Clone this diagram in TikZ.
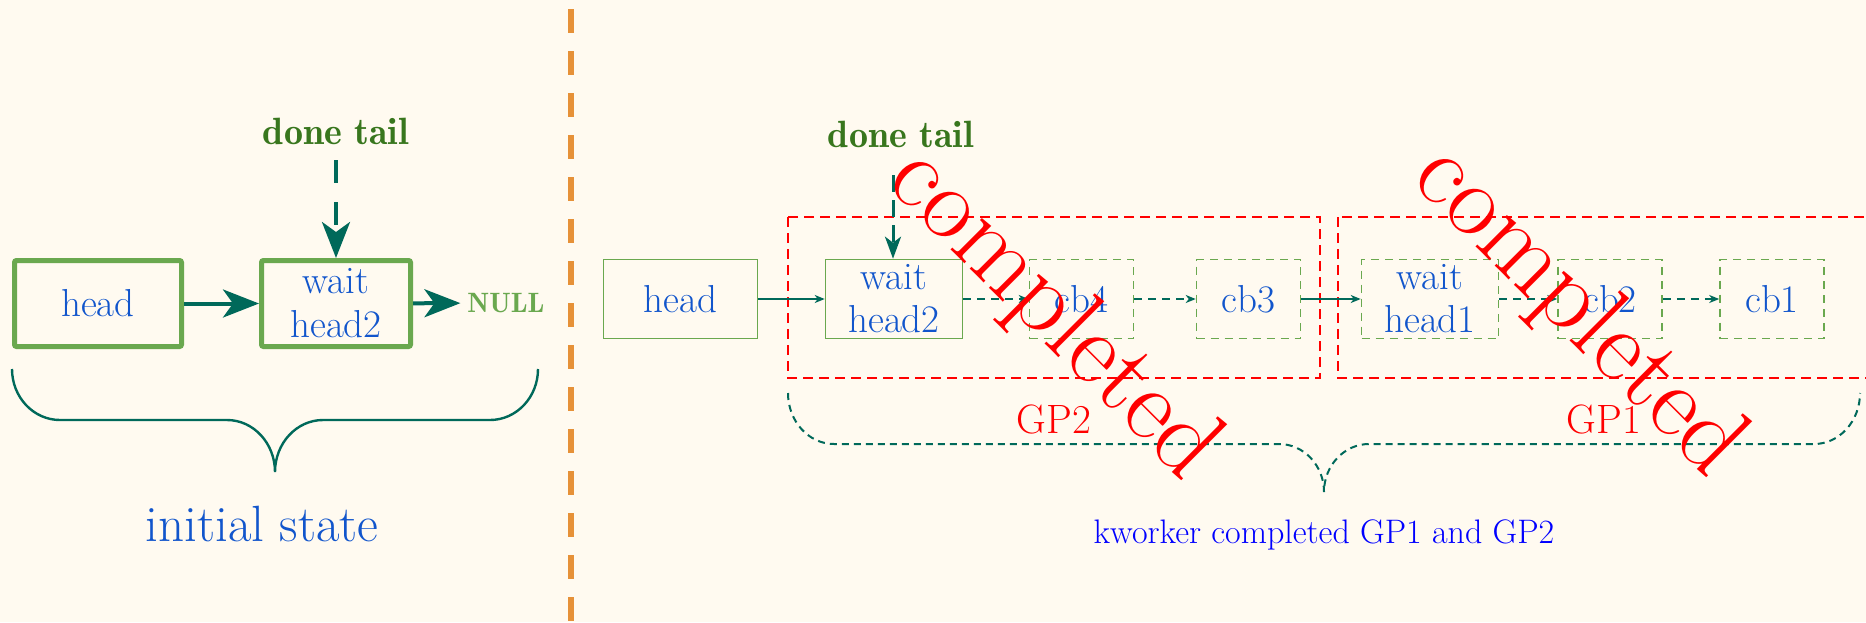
\documentclass[tikz,border=0pt]{standalone}
\usepackage{fontspec}
\usetikzlibrary{arrows.meta}
\newfontfamily\demifont{lmromandemi10-regular.otf}
\definecolor{bg}{HTML}{FFFAF0}
\definecolor{boxgreen}{HTML}{6AA84F}
\definecolor{darkteal}{HTML}{00695A}
\definecolor{tailgreen}{HTML}{38761D}
\definecolor{txtblue}{HTML}{1155CC}
\definecolor{divorange}{HTML}{E69138}
\tikzset{
  bigbox/.style={draw=boxgreen, line width=2.5pt, rounded corners=1pt, inner sep=0pt,
    minimum height=43pt, align=center, text=txtblue, font=\fontsize{19.5}{22}\selectfont},
  smallbox/.style={draw=boxgreen, line width=0.8pt, inner sep=0pt,
    minimum height=39.5pt, align=center, text=txtblue, font=\fontsize{19.5}{21.5}\selectfont},
  dashbox/.style={smallbox, dash pattern=on 4pt off 3pt},
  thicklink/.style={draw=darkteal, line width=2pt, -{Stealth[length=18pt,width=14pt,inset=5pt]}},
  thinlink/.style={draw=darkteal, line width=0.8pt, -{Stealth[length=5pt,width=4pt,inset=1.5pt]}},
  dashlink/.style={thinlink, dash pattern=on 4pt off 3pt},
  tailtext/.style={text=tailgreen, font=\fontsize{19}{23}\demifont},
  gpframe/.style={draw=red, line width=1pt, dash pattern=on 5pt off 3pt},
  gplabel/.style={text=red, font=\fontsize{20.5}{24}\selectfont},
  stamp/.style={text=red, rotate=-45, font=\fontsize{52}{58}\selectfont},
}
\begin{document}
\begin{tikzpicture}[x=0.5pt, y=-0.5pt]
  \fill[bg] (0,0) rectangle (1866,622);
  \useasboundingbox (0,0) rectangle (1866,622);

  % ---------- initial state ----------
  \node[bigbox, minimum width=83.5pt] (lhead) at (98,303.5) {head};
  \node[bigbox, minimum width=74.5pt] (lwait) at (336,303.5) {wait\\head2};
  \node[text=boxgreen, font=\fontsize{14}{16}\demifont] (lnull) at (506,303) {NULL};
  \node[tailtext] (ltail) at (336,131) {done tail};
  \coordinate (ltailstart) at (336,160);

  \draw[thicklink] (lhead) -- (lwait);
  \draw[thicklink] (lwait) -- (lnull);
  \draw[thicklink, dash pattern=on 11.5pt off 9.5pt] (ltailstart) -- (lwait.north);

  \draw[darkteal, line width=1.2pt]
    (12,369) .. controls (12,397.2) and (33.5,420) .. (60,420) -- (227,420)
    .. controls (253.5,420) and (275,443.3) .. (275,472)
    .. controls (275,443.3) and (296.5,420) .. (323,420) -- (490,420)
    .. controls (516.5,420) and (538,397.2) .. (538,369);
  \node[text=txtblue, font=\fontsize{25.5}{30}\selectfont] (initlbl) at (262,524) {initial state};

  % ---------- divider ----------
  \draw[divorange, line width=3pt, dash pattern=on 12pt off 9pt] (571,9) -- (571,640);

  % ---------- after the grace periods ----------
  \draw[gpframe] (788,217) rectangle (1320,378);
  \draw[gpframe] (1338,217) rectangle (1872,378);

  \node[smallbox, minimum width=77pt] (rhead) at (680.5,299) {head};
  \node[smallbox, minimum width=68.5pt] (rwait2) at (894,299) {wait\\head2};
  \node[dashbox, minimum width=52pt] (cb4) at (1081.5,299) {cb4};
  \node[dashbox, minimum width=52pt] (cb3) at (1248.5,299) {cb3};
  \node[dashbox, minimum width=68.5pt] (rwait1) at (1430,299) {wait\\head1};
  \node[dashbox, minimum width=52pt] (cb2) at (1610,299) {cb2};
  \node[dashbox, minimum width=52pt] (cb1) at (1772,299) {cb1};

  \draw[thinlink] (rhead) -- (rwait2);
  \draw[dashlink] (rwait2) -- (cb4);
  \draw[dashlink] (cb4) -- (cb3);
  \draw[thinlink] (cb3) -- (rwait1);
  \draw[dashlink] (rwait1) -- (cb2);
  \draw[dashlink] (cb2) -- (cb1);

  \node[tailtext] (rtail) at (901,134) {done tail};
  \coordinate (rtailstart) at (893,175);
  \draw[draw=darkteal, line width=1.5pt, dash pattern=on 8.5pt off 4pt,
        -{Stealth[length=11pt,width=8pt,inset=3pt]}] (rtailstart) -- (rtailstart |- rwait2.north);

  \node[gplabel] (gp2) at (1054,419) {GP2};
  \node[gplabel] (gp1) at (1604,419) {GP1};

  \draw[darkteal, line width=1pt, dash pattern=on 3.5pt off 2.5pt]
    (788,393) .. controls (788,421.2) and (808.6,444) .. (834,444) -- (1279,444)
    .. controls (1303.8,444) and (1324,465.5) .. (1324,492)
    .. controls (1324,465.5) and (1344.2,444) .. (1369,444) -- (1814,444)
    .. controls (1839.4,444) and (1860,421.2) .. (1860,393);
  \node[text=blue, font=\fontsize{17}{20}\selectfont] (kw) at (1324,535) {kworker completed GP1 and GP2};

  \node[stamp] (done2) at (1053,315) {completed};
  \node[stamp] (done1) at (1578,312) {completed};
\end{tikzpicture}
\end{document}
